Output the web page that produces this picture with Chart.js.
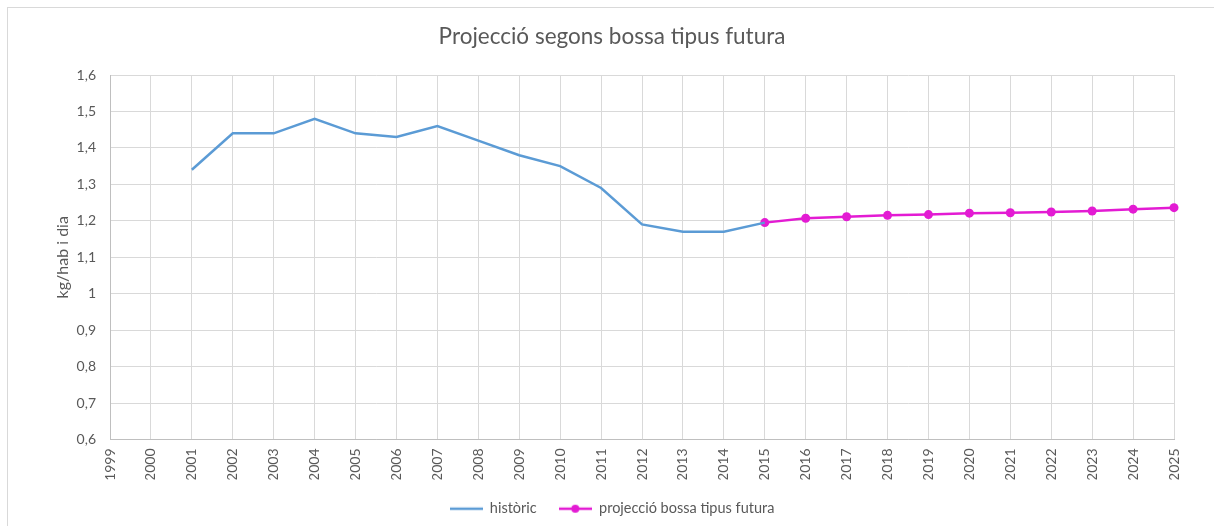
<!DOCTYPE html>
<html>
<head>
<meta charset="utf-8">
<script src="https://cdn.jsdelivr.net/npm/chart.js@4"></script>
<style>
  html, body { margin: 0; padding: 0; background: #fff; }
  #wrap { width: 1214px; height: 526px; position: relative; }
</style>
</head>
<body>
<div id="wrap"><canvas id="chart" width="1214" height="526"></canvas></div>
<script>
// Data
const years = ["1999", "2000", "2001", "2002", "2003", "2004", "2005", "2006", "2007",
  "2008", "2009", "2010", "2011", "2012", "2013", "2014", "2015", "2016", "2017",
  "2018", "2019", "2020", "2021", "2022", "2023", "2024", "2025"];
const historic = [null, null, 1.34, 1.44, 1.44, 1.48, 1.44, 1.43, 1.46, 1.42, 1.38,
  1.35, 1.29, 1.19, 1.17, 1.17, 1.195, null, null, null, null, null, null, null, null, null, null];
const projection = [null, null, null, null, null, null, null, null, null, null, null,
  null, null, null, null, null, 1.195, 1.207, 1.211, 1.215, 1.217, 1.221, 1.222, 1.224,
  1.227, 1.232, 1.236];
const yMin = 0.6;
const yMax = 1.6;
const yStep = 0.1;

const blue = "#5B9BD5";
const pink = "#E31BD3";
const textColor = "#595959";
const gridColor = "#D9D9D9";
const fontFamily = "Lato, 'Open Sans', sans-serif";

// Legend icons
function legendIcon(color, withDot) {
  const c = document.createElement("canvas");
  c.width = 33;
  c.height = 12;
  const g = c.getContext("2d");
  g.strokeStyle = color;
  g.lineWidth = 2.5;
  g.beginPath();
  g.moveTo(0, 6);
  g.lineTo(33, 6);
  g.stroke();
  if (withDot) {
    g.fillStyle = color;
    g.beginPath();
    g.arc(16.5, 6, 4, 0, Math.PI * 2);
    g.fill();
  }
  return c;
}
const icons = [legendIcon(blue, false), legendIcon(pink, true)];

// Chart frame
const framePlugin = {
  id: "frame",
  beforeDraw(chart) {
    const ctx = chart.ctx;
    ctx.save();
    ctx.fillStyle = "#fff";
    ctx.fillRect(0, 0, chart.width, chart.height);
    ctx.strokeStyle = gridColor;
    ctx.lineWidth = 1;
    ctx.strokeRect(7.5, 7.5, chart.width + 20, chart.height + 20);
    ctx.restore();
  },
};

const ctx = document.getElementById("chart").getContext("2d");
new Chart(ctx, {
  type: "line",
  data: {
    labels: years,
    datasets: [
      {
        label: "històric",
        data: historic,
        borderColor: blue,
        backgroundColor: blue,
        borderWidth: 2.5,
        pointRadius: 0,
        pointHoverRadius: 0,
        tension: 0,
        clip: false,
      },
      {
        label: "projecció bossa tipus futura",
        data: projection,
        borderColor: pink,
        backgroundColor: pink,
        borderWidth: 2.5,
        pointRadius: 4.5,
        pointBorderWidth: 0,
        tension: 0,
        clip: false,
      },
    ],
  },
  options: {
    responsive: false,
    animation: false,
    layout: { padding: { left: 50, right: 40, top: 0, bottom: 0 } },
    plugins: {
      title: {
        display: true,
        text: "Projecció segons bossa tipus futura",
        color: textColor,
        font: { family: fontFamily, size: 22.5, weight: "normal" },
        padding: { top: 23, bottom: 25 },
      },
      legend: {
        position: "bottom",
        labels: {
          color: textColor,
          font: { family: fontFamily, size: 14.5 },
          usePointStyle: true,
          pointStyleWidth: 33,
          padding: 22,
          generateLabels(chart) {
            const items = Chart.defaults.plugins.legend.labels.generateLabels(chart);
            items.forEach((it, i) => { it.pointStyle = icons[i]; });
            return items;
          },
        },
      },
      tooltip: { enabled: false },
    },
    scales: {
      x: {
        offset: false,
        grid: { color: gridColor, drawTicks: false },
        border: { color: "#BFBFBF" },
        ticks: {
          color: textColor,
          font: { family: fontFamily, size: 14 },
          maxRotation: 90,
          minRotation: 90,
          padding: 9,
          autoSkip: false,
        },
        afterFit(scale) { scale.height = 40; },
      },
      y: {
        min: yMin,
        max: yMax,
        grid: { color: gridColor, drawTicks: false },
        border: { color: "#BFBFBF" },
        title: {
          display: true,
          text: "kg/hab i dia",
          color: textColor,
          font: { family: fontFamily, size: 16 },
          padding: { top: 3, bottom: 0 },
        },
        ticks: {
          stepSize: yStep,
          color: textColor,
          font: { family: fontFamily, size: 14 },
          padding: 14,
          callback: (v) => String(Math.round(v * 10) / 10).replace(".", ","),
        },
        afterFit(scale) { scale.width = 60; },
      },
    },
  },
  plugins: [framePlugin],
});
</script>
</body>
</html>
